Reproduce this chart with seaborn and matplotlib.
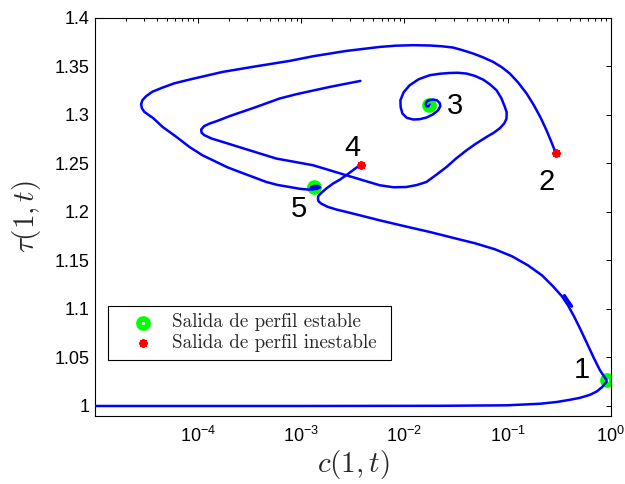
import matplotlib
matplotlib.use("Agg")
import matplotlib.pyplot as plt
import seaborn as sns
import pandas as pd
from matplotlib.ticker import FixedLocator, LogLocator, NullFormatter

# Trajectory leaving the unstable exit 2 and winding into the stable exit 5
c_2a5 = [0.292, 0.2692, 0.2408, 0.2106, 0.1800, 0.1531, 0.1259, 0.1052, 0.0880,
         0.0725, 0.0576, 0.0464, 0.0368, 0.0296, 0.0230, 0.0176, 0.0121, 8.24e-3,
         5.75e-3, 2.73e-3, 1.30e-3, 7.69e-4, 3.66e-4, 1.73e-4, 8.24e-5, 5.89e-5,
         4.53e-5, 3.60e-5, 3.13e-5, 2.88e-5, 2.80e-5, 2.85e-5, 3.01e-5, 3.68e-5,
         4.53e-5, 6.03e-5, 8.24e-5, 1.10e-4, 1.50e-4, 1.92e-4, 2.52e-4, 3.37e-4,
         4.57e-4, 5.89e-4, 7.69e-4, 9.62e-4, 1.15e-3,
         1.29e-3, 1.44e-3, 1.52e-3, 1.46e-3, 1.32e-3, 1.24e-3, 1.29e-3, 1.38e-3,
         1.39e-3, 1.33e-3]
tau_2a5 = [1.2610, 1.2705, 1.2829, 1.2963, 1.3097, 1.3217, 1.3334, 1.3423, 1.3488,
           1.3543, 1.3591, 1.3629, 1.3663, 1.3691, 1.3704, 1.3712, 1.3715, 1.3710,
           1.3697, 1.3656, 1.3601, 1.3553, 1.3498, 1.3440, 1.3361, 1.3323,
           1.3279, 1.3236, 1.3190, 1.3148, 1.3107, 1.3066, 1.3028, 1.2963,
           1.2873, 1.2778, 1.2667, 1.2582, 1.2513, 1.2458, 1.2410, 1.2360,
           1.2307, 1.2276, 1.2255, 1.2237, 1.2229,
           1.2230, 1.2237, 1.2251, 1.2265, 1.2265, 1.2251, 1.2240, 1.2243,
           1.2252, 1.2252]

# Trajectory leaving the unstable exit 4 and ending at the stable exit 1
c_4a1 = [3.77e-3, 3.22e-3, 2.73e-3, 2.36e-3, 2.03e-3, 1.76e-3, 1.56e-3, 1.47e-3,
         1.45e-3, 1.47e-3, 1.56e-3, 1.80e-3, 2.19e-3, 2.94e-3, 4.12e-3, 5.75e-3,
         0.01007, 0.0176, 0.0308, 0.0482, 0.0753, 0.1102, 0.1574, 0.2153, 0.2754,
         0.3366, 0.3852, 0.4404, 0.5035, 0.5888, 0.6887, 0.7870, 0.914]
tau_4a1 = [1.2486, 1.2433, 1.2376, 1.2330, 1.2290, 1.2242, 1.2194, 1.2165,
           1.2136, 1.2108, 1.2084, 1.2051, 1.2023, 1.1990, 1.1951, 1.1912,
           1.1851, 1.1792, 1.1727, 1.1676, 1.1614, 1.1542, 1.1449, 1.1346, 1.1233,
           1.1130, 1.1037, 1.0924, 1.0800, 1.0646, 1.0491, 1.0368, 1.0265]

# Short branch beside the descending part of the 4 -> 1 trajectory
c_rama = [0.356, 0.418]
tau_rama = [1.1137, 1.1027]

# Trajectory starting from the uniform state tau = 1
c_base = [1e-5, 9.64e-4, 0.0220, 0.0978, 0.2060, 0.2991, 0.4027, 0.5035, 0.6295,
          0.7362, 0.8232, 0.914]
tau_base = [1.0, 1.0, 1.0002, 1.0007, 1.0023, 1.0041, 1.0064, 1.0084, 1.0115,
            1.0151, 1.0193, 1.0249]

# Trajectory spiralling into the stable exit 3
c_in3 = [3.74e-3, 1.88e-3, 8.93e-4, 6.16e-4, 3.66e-4, 2.01e-4, 1.55e-4, 1.29e-4,
         1.14e-4, 1.07e-4, 1.08e-4, 1.15e-4, 1.35e-4, 1.73e-4, 3.15e-4, 5.72e-4,
         1.30e-3, 2.73e-3, 5.75e-3, 7.87e-3, 0.01045, 0.01316, 0.01636, 0.0201,
         0.0256, 0.0315, 0.0400, 0.0492, 0.0625, 0.0736, 0.0842, 0.0931, 0.0978,
         0.0980, 0.0942, 0.0871, 0.0782, 0.0673, 0.0579, 0.0482, 0.0400, 0.0329,
         0.0275, 0.0220, 0.0176, 0.01377, 0.01126, 9.84e-3, 9.14e-3, 9.20e-3,
         9.57e-3, 0.01052, 0.01211, 0.01408, 0.01636, 0.01883, 0.0212, 0.0223,
         0.0220, 0.0206, 0.0190, 0.0172, 0.01636, 0.0161, 0.01636, 0.0172, 0.0176]
tau_in3 = [1.3347, 1.3285, 1.3210, 1.3166, 1.3079, 1.2984, 1.2937, 1.2908,
           1.2881, 1.2847, 1.2814, 1.2788, 1.2754, 1.2719, 1.2633, 1.2548,
           1.2479, 1.2376, 1.2273, 1.2252, 1.2255, 1.2275, 1.2307, 1.2376,
           1.2461, 1.2546, 1.2633, 1.2700, 1.2770, 1.2814, 1.2860, 1.2911, 1.2960,
           1.3025, 1.3079, 1.3169, 1.3251, 1.3313, 1.3361, 1.3399, 1.3423, 1.3431,
           1.3429, 1.3421, 1.3406, 1.3365, 1.3303, 1.3231, 1.3148, 1.3076,
           1.3011, 1.2968, 1.2950, 1.2953, 1.2970, 1.3001, 1.3045, 1.3087,
           1.3120, 1.3148, 1.3156, 1.3148, 1.3131, 1.3107, 1.3086, 1.3086, 1.3102]

# Exit points
c_estable = [0.914, 0.0172, 1.33e-3]
tau_estable = [1.0265, 1.3097, 1.2255]
c_inestable = [0.292, 3.77e-3]
tau_inestable = [1.261, 1.2486]

# Exit labels
etiquetas = ["1", "2", "3", "4", "5"]
c_etiq = [0.523, 0.239, 0.0308, 3.13e-3, 9.5e-4]
tau_etiq = [1.0368, 1.2307, 1.3087, 1.2661, 1.2033]

yticks = [1.0, 1.05, 1.1, 1.15, 1.2, 1.25, 1.3, 1.35, 1.4]
xticks = [1e-4, 1e-3, 1e-2, 1e-1, 1e0]
xticklabels = [r"$\mathregular{10^{-4}}$", r"$\mathregular{10^{-3}}$",
               r"$\mathregular{10^{-2}}$", r"$\mathregular{10^{-1}}$",
               r"$\mathregular{10^{0}}$"]

sns.set_theme(style="white")
plt.rcParams["font.family"] = ["Liberation Sans", "DejaVu Sans"]
plt.rcParams["axes.unicode_minus"] = False

fig = plt.figure(figsize=(6.25, 4.84), dpi=100)
ax = fig.add_axes([0.152, 0.1411, 0.8251, 0.8227])
ax.set_xscale("log")

azul = "#0000ff"
lw = 1.8
for cx, ty, w in [(c_base, tau_base, lw), (c_4a1, tau_4a1, lw),
                  (c_rama, tau_rama, 2.3), (c_2a5, tau_2a5, lw),
                  (c_in3, tau_in3, lw)]:
    sns.lineplot(data=pd.DataFrame({"c": cx, "tau": ty}), x="c", y="tau",
                 sort=False, estimator=None, color=azul, linewidth=w,
                 ax=ax, zorder=3)

sns.scatterplot(x=c_estable, y=tau_estable, marker="o", s=42, color="white",
                edgecolor="#00ff00", linewidth=4.1, zorder=2, ax=ax,
                label="Salida de perfil estable")
sns.scatterplot(x=c_inestable, y=tau_inestable, marker=(8, 2, 0), s=20,
                color="#ff0000", linewidth=2.0, zorder=4, ax=ax,
                label="Salida de perfil inestable")

for txt, cx, ty in zip(etiquetas, c_etiq, tau_etiq):
    ax.text(cx, ty, txt, fontsize=21, ha="center", va="center", color="black")

ax.set_xlim(1e-5, 1.0)
ax.set_ylim(0.99, 1.4)
ax.xaxis.set_major_locator(FixedLocator(xticks))
ax.set_xticklabels(xticklabels)
ax.xaxis.set_minor_locator(LogLocator(base=10, subs=[2, 3, 4, 5, 6, 7, 8, 9], numticks=20))
ax.xaxis.set_minor_formatter(NullFormatter())
ax.set_yticks(yticks)
ax.set_yticklabels([f"{v:g}" for v in yticks])

ax.tick_params(which="both", direction="in", top=True, right=True,
               colors="black", labelsize=13, width=0.7)
ax.tick_params(which="major", length=3.6)
ax.tick_params(which="minor", length=2.2)
ax.tick_params(axis="y", pad=4)
ax.tick_params(axis="x", pad=7)
for sp in ax.spines.values():
    sp.set_color("black")
    sp.set_linewidth(0.8)

ax.set_xlabel(r"$c(1,t)$", fontsize=21, math_fontfamily="cm", labelpad=2)
ax.set_ylabel(r"$\tau(1,t)$", fontsize=21, math_fontfamily="cm", labelpad=8)

leg = ax.legend(loc="lower left", bbox_to_anchor=(0.026, 0.14, 0.548, 0.0),
                mode="expand", borderaxespad=0, frameon=True, fancybox=False,
                framealpha=1, edgecolor="black", prop={"family": "cmr10", "size": 13.7},
                handlelength=2.88, handletextpad=0.06, borderpad=0.4, labelspacing=0.15)
leg.get_frame().set_linewidth(0.8)

fig.savefig("out.png", dpi=100)
